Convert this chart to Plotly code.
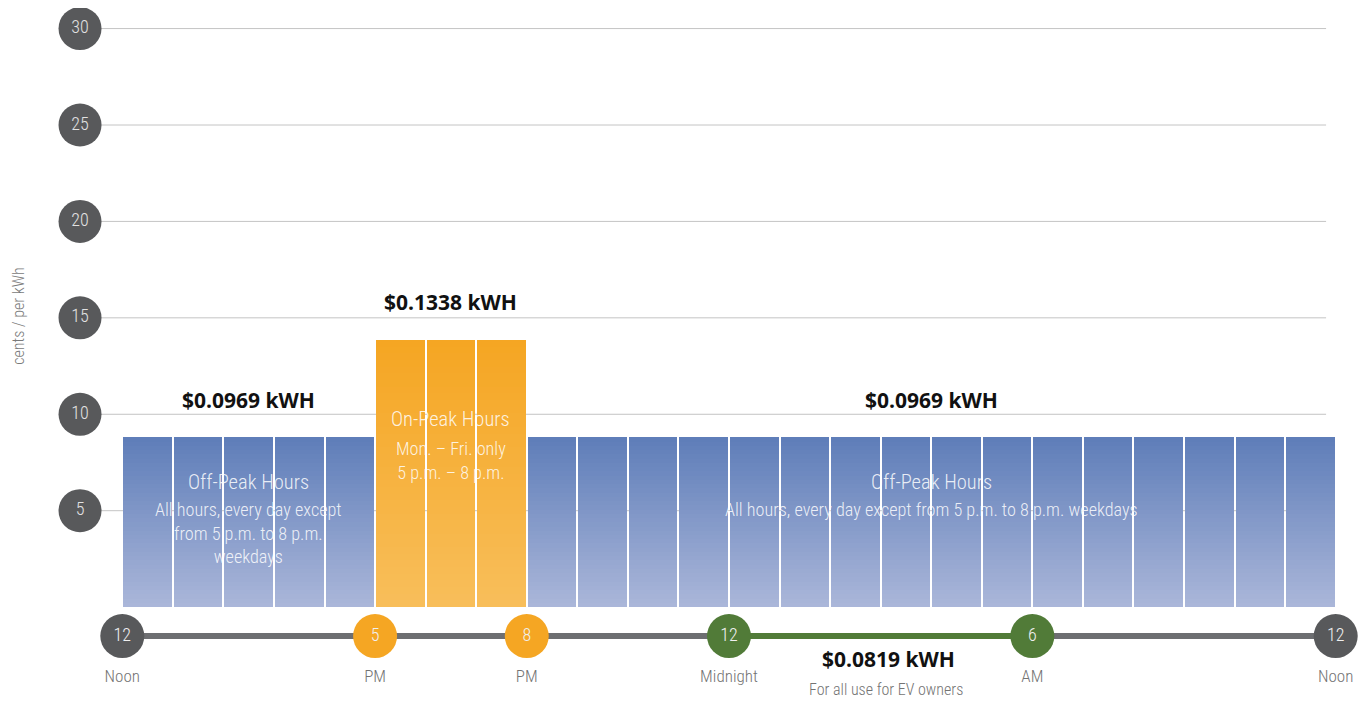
import plotly.graph_objects as go

# ---------------- data ----------------
hour_start = list(range(24))                     # hour slots from noon to noon
hour_rate_cents = [8.8] * 5 + [13.85] * 3 + [8.8] * 16
hour_period = ["off"] * 5 + ["on"] * 3 + ["off"] * 16

y_ticks = [5, 10, 15, 20, 25, 30]

timeline_hours = [0, 5, 8, 12, 18, 24]
timeline_nums = ["12", "5", "8", "12", "6", "12"]
timeline_labels = ["Noon", "PM", "PM", "Midnight", "AM", "Noon"]
timeline_kind = ["base", "peak", "peak", "ev", "ev", "base"]
ev_start, ev_end = 12, 18

price_off = "$0.0969 kWH"
price_on = "$0.1338 kWH"
price_ev = "$0.0819 kWH"

# ---------------- style ----------------
LIGHT = "Roboto Condensed, Open Sans, sans-serif"
BOLD = "Open Sans"
BLUE_TOP, BLUE_BOT = (95, 126, 185), (170, 182, 217)
ORNG_TOP, ORNG_BOT = (245, 166, 35), (248, 190, 90)
GRAY_C = "#58595b"
LINE_GRAY = "#6d6e71"
GREEN = "#517b38"
ORANGE = "#f5a623"
TL_Y = -1.5
X_LEFT = -0.876
GRID_END = 23.81


def mix(a, b, t):
    return "rgb(%d,%d,%d)" % tuple(round(a[k] + (b[k] - a[k]) * t) for k in range(3))


fig = go.Figure()

# gradient bars: each bar split into N stacked slices
N = 40
for i in range(N):
    t = i / (N - 1)  # 0 bottom -> 1 top
    cols = [mix(BLUE_BOT, BLUE_TOP, t) if p == "off" else mix(ORNG_BOT, ORNG_TOP, t)
            for p in hour_period]
    fig.add_trace(go.Bar(
        x=[h + 0.5 for h in hour_start],
        y=[v / N for v in hour_rate_cents],
        marker=dict(color=cols, line=dict(width=0)),
        hoverinfo="skip",
        showlegend=False,
    ))

# y-axis circle tick labels
fig.add_trace(go.Scatter(
    x=[X_LEFT + 0.04] * len(y_ticks), y=y_ticks, mode="markers+text",
    text=[str(v) for v in y_ticks], textposition="middle center",
    marker=dict(size=43, color=GRAY_C),
    textfont=dict(family=LIGHT, size=18, color="#e2e2e2", weight=300),
    cliponaxis=False, hoverinfo="skip", showlegend=False,
))

# timeline
fig.add_trace(go.Scatter(
    x=[timeline_hours[0], timeline_hours[-1]], y=[TL_Y, TL_Y], mode="lines",
    line=dict(color=LINE_GRAY, width=6), cliponaxis=False,
    hoverinfo="skip", showlegend=False,
))
fig.add_trace(go.Scatter(
    x=[ev_start, ev_end], y=[TL_Y, TL_Y], mode="lines",
    line=dict(color=GREEN, width=6), cliponaxis=False,
    hoverinfo="skip", showlegend=False,
))
kind_color = {"base": GRAY_C, "peak": ORANGE, "ev": GREEN}
fig.add_trace(go.Scatter(
    x=timeline_hours, y=[TL_Y] * len(timeline_hours), mode="markers+text",
    text=timeline_nums, textposition="middle center",
    marker=dict(size=44, color=[kind_color[k] for k in timeline_kind]),
    textfont=dict(family=LIGHT, size=18, color="#f0f0f0", weight=300),
    cliponaxis=False, hoverinfo="skip", showlegend=False,
))
fig.add_trace(go.Scatter(
    x=timeline_hours, y=[-3.65] * len(timeline_hours), mode="text",
    text=timeline_labels, textposition="middle center",
    textfont=dict(family=LIGHT, size=17, color="#737373", weight=300),
    cliponaxis=False, hoverinfo="skip", showlegend=False,
))

ann = []


def add(text, x, y, size, color, weight, family=LIGHT, xref="x", **kw):
    ann.append(dict(text=text, x=x, y=y, xref=xref, yref="y", showarrow=False,
                    font=dict(family=family, size=size, color=color, weight=weight),
                    xanchor="center", yanchor="middle", **kw))


off_left_c = 2.5
on_c = 6.5
off_right_c = 16
off_v = hour_rate_cents[0]
on_v = hour_rate_cents[5]

add(price_off, off_left_c, off_v + 1.93, 21, "#111111", 700, BOLD)
add(price_on, on_c, on_v + 1.96, 21, "#111111", 700, BOLD)
add(price_off, off_right_c, off_v + 1.93, 21, "#111111", 700, BOLD)

WT = "rgba(255,255,255,0.86)"
add("Off-Peak Hours", off_left_c, 6.48, 20.5, WT, 300)
add("All hours, every day except<br>from 5 p.m. to 8 p.m.<br>weekdays", off_left_c, 3.84, 18.2, WT, 300)
add("On-Peak Hours", on_c, 9.75, 20.5, WT, 300)
add("Mon. – Fri. only<br>5 p.m. – 8 p.m.", on_c, 7.62, 18.2, WT, 300)
add("Off-Peak Hours", off_right_c, 6.48, 20.5, WT, 300)
add("All hours, every day except from 5 p.m. to 8 p.m. weekdays", off_right_c, 5.08, 18.2, WT, 300)

add(price_ev, 15.15, -2.7, 21, "#111111", 700, BOLD)
add("For all use for EV owners", 15.1, -4.25, 16, "#737373", 300)

add("cents / per kWh", -0.047, 15.1, 16, "#7a7a7a", 300, xref="paper", textangle=-90)

# gridlines at the tick values (drawn under the bars)
shapes = [dict(type="line", xref="x", yref="y", x0=X_LEFT, x1=GRID_END, y0=v, y1=v,
               line=dict(color="#c4c4c4", width=1), layer="below") for v in y_ticks]

fig.update_layout(
    annotations=ann,
    shapes=shapes,
    width=1358, height=694,
    margin=dict(l=70, r=30, t=9, b=0),
    paper_bgcolor="white", plot_bgcolor="white",
    barmode="stack", bargap=0.04,
    showlegend=False,
    xaxis=dict(range=[X_LEFT, 24.006], visible=False, fixedrange=True),
    yaxis=dict(range=[-4.92, 30.6], tickvals=y_ticks, showticklabels=False,
               showgrid=False, zeroline=False, showline=False, fixedrange=True),
)

fig.write_html("out.html")
